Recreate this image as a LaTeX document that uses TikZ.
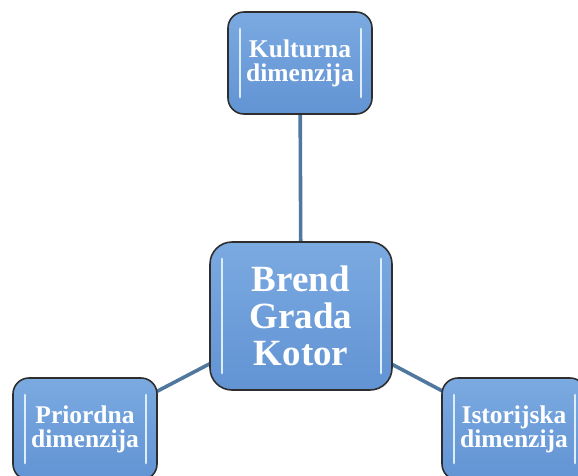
\documentclass[tikz,border=0pt]{standalone}
\usepackage{fontspec}
\setmainfont{Liberation Serif}
\usetikzlibrary{backgrounds}
\definecolor{boxtop}{HTML}{7BAAE1}
\definecolor{boxbot}{HTML}{6293D3}
\definecolor{edgeline}{HTML}{2E2E2E}
\definecolor{linkcol}{HTML}{50789F}
\definecolor{hilite}{HTML}{DCEDFC}
\begin{document}
\begin{tikzpicture}[x=1pt,y=-1pt,
  hl/.style={draw=hilite, line width=2.8pt, line cap=round},
  glossy/.style={draw=edgeline, line width=1.6pt, top color=boxtop, bottom color=boxbot,
    text=white, align=center, inner sep=0pt,
    path picture={
      \draw[hl] ([xshift=12pt,yshift=-17pt]path picture bounding box.north west) -- ([xshift=12pt,yshift=17pt]path picture bounding box.south west);
      \draw[hl] ([xshift=-11pt,yshift=-17pt]path picture bounding box.north east) -- ([xshift=-11pt,yshift=17pt]path picture bounding box.south east);
    }},
  dimbox/.style={glossy, rounded corners=16pt, minimum width=144pt, minimum height=102pt,
    font=\fontsize{25.5}{24}\selectfont\bfseries},
  corebox/.style={glossy, rounded corners=22pt, minimum width=182pt, minimum height=148pt,
    font=\fontsize{37}{37}\selectfont\bfseries},
  link/.style={draw=linkcol, line width=3.6pt}]
\useasboundingbox (0,0) rectangle (578,475);
\clip (0,0) rectangle (578,475);
\node[corebox] (core) at (301,316) {Brend\\Grada\\Kotor};
\node[dimbox] (kult) at (300,63) {Kulturna\\dimenzija};
\node[dimbox] (prir) at (85,429) {Priordna\\dimenzija};
\node[dimbox] (ist) at (514,429) {Istorijska\\dimenzija};
\begin{scope}[on background layer]
\draw[link] (core.center) -- (kult.center);
\draw[link] (core.center) -- (prir.center);
\draw[link] (core.center) -- (ist.center);
\end{scope}
\end{tikzpicture}
\end{document}
